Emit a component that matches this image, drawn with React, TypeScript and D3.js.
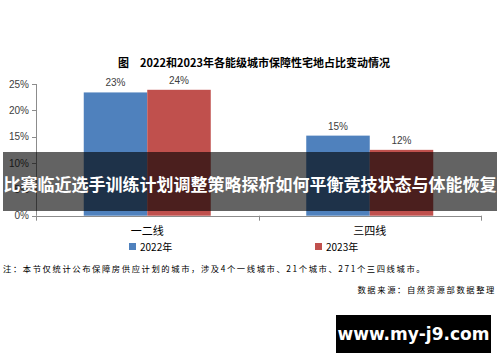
import React from "react";
import * as d3 from "d3";

const title = "图　2022和2023年各能级城市保障性宅地占比变动情况";
const categories = ["一二线", "三四线"];
const seriesNames = ["2022年", "2023年"];
const values2022 = [23.4, 15.2];
const values2023 = [23.9, 12.5];
const labels2022 = ["23%", "15%"];
const labels2023 = ["24%", "12%"];
const yTicks = [0, 5, 10, 15, 20, 25];
const colors = ["#4F81BD", "#C0504D"];
const note = "注：本节仅统计公布保障房供应计划的城市，涉及4个一线城市、21个城市、271个三四线城市。";
const source = "数据来源：自然资源部数据整理";
const banner = "比赛临近选手训练计划调整策略探析如何平衡竞技状态与体能恢复";
const watermark = "www.my-j9.com";

const W = 500;
const H = 362;
const font = "'Liberation Sans', 'Noto Sans CJK SC', sans-serif";

export default function App() {
  const x = d3.scaleBand<string>().domain(categories).range([36, 481]).padding(0);
  const bw = x.bandwidth();
  const xs = d3.scaleBand<string>().domain(seriesNames).range([0, bw]).paddingInner(0).paddingOuter(0.752);
  const y = d3.scaleLinear().domain([0, 25]).range([215.7, 84]);
  const series = [
    { name: seriesNames[0], values: values2022, labels: labels2022, color: colors[0] },
    { name: seriesNames[1], values: values2023, labels: labels2023, color: colors[1] },
  ];
  const axisColor = "#8c8c8c";
  const y0 = y(0);

  return (
    <div style={{ position: "absolute", left: 0, top: 0 }}>
      <svg width={W} height={H} style={{ display: "block", background: "#fff" }} fontFamily={font}>
        <text x={254} y={67} textAnchor="middle" fontSize={11} fontWeight="bold" fill="#000" fontFamily="'Noto Sans CJK SC', sans-serif">{title}</text>

        {/* bars */}
        {series.map((s) =>
          categories.map((c, i) => {
            const bx = (x(c) as number) + (xs(s.name) as number);
            const top = y(s.values[i]);
            return (
              <g key={s.name + c}>
                <rect x={bx} y={top} width={xs.bandwidth()} height={y0 - top} fill={s.color} />
                <text x={bx + xs.bandwidth() / 2} y={top - 6} textAnchor="middle" fontSize={10} fill="#404040">{s.labels[i]}</text>
              </g>
            );
          })
        )}

        {/* y axis */}
        <line x1={36.5} x2={36.5} y1={y(25)} y2={y0} stroke={axisColor} />
        {yTicks.map((t) => (
          <g key={t}>
            <line x1={32} x2={36.5} y1={Math.round(y(t)) + 0.5} y2={Math.round(y(t)) + 0.5} stroke={axisColor} />
            <text x={29} y={y(t) + 3.5} textAnchor="end" fontSize={10} fill="#404040">{t}%</text>
          </g>
        ))}

        {/* x axis */}
        <line x1={36} x2={481} y1={Math.round(y0) + 0.5} y2={Math.round(y0) + 0.5} stroke={axisColor} />
        {[...categories.map((c) => x(c) as number), 481].map((v, i) => (
          <line key={i} x1={Math.round(v) + 0.5} x2={Math.round(v) + 0.5} y1={y0} y2={y0 + 5} stroke={axisColor} />
        ))}
        {categories.map((c) => (
          <text key={c} x={(x(c) as number) + bw / 2} y={235} textAnchor="middle" fontSize={11} fill="#000" fontFamily="'Noto Sans CJK SC', sans-serif">{c}</text>
        ))}

        {/* legend */}
        {series.map((s, i) => {
          const lx = i === 0 ? 129 : 315;
          return (
            <g key={s.name}>
              <rect x={lx} y={243} width={7} height={7} fill={s.color} />
              <text x={lx + 11} y={250.5} fontSize={10} fill="#000" fontFamily="'Noto Sans CJK SC', sans-serif">{s.name}</text>
            </g>
          );
        })}

        {/* note and source */}
        <text x={3} y={272} fontSize={8.3} fill="#000" letterSpacing={1.6} fontFamily="'Noto Sans CJK SC', sans-serif">{note}</text>
        <text x={496} y={293} textAnchor="end" fontSize={8.3} fill="#000" letterSpacing={1.6} fontFamily="'Noto Sans CJK SC', sans-serif">{source}</text>

        {/* banner overlay */}
        <rect x={3} y={152} width={494} height={59} fill="rgba(0,0,0,0.61)" />
        <text x={250} y={191} textAnchor="middle" fontSize={17} fontWeight="bold" fill="#fff" fontFamily="'Noto Sans CJK SC', sans-serif">{banner}</text>

        {/* watermark */}
        <rect x={336} y={315} width={155} height={38} fill="#000" />
        <text x={413.5} y={340} textAnchor="middle" fontSize={17} fontWeight="bold" fill="#fff" fontFamily="'DejaVu Sans', sans-serif">{watermark}</text>
      </svg>
    </div>
  );
}
